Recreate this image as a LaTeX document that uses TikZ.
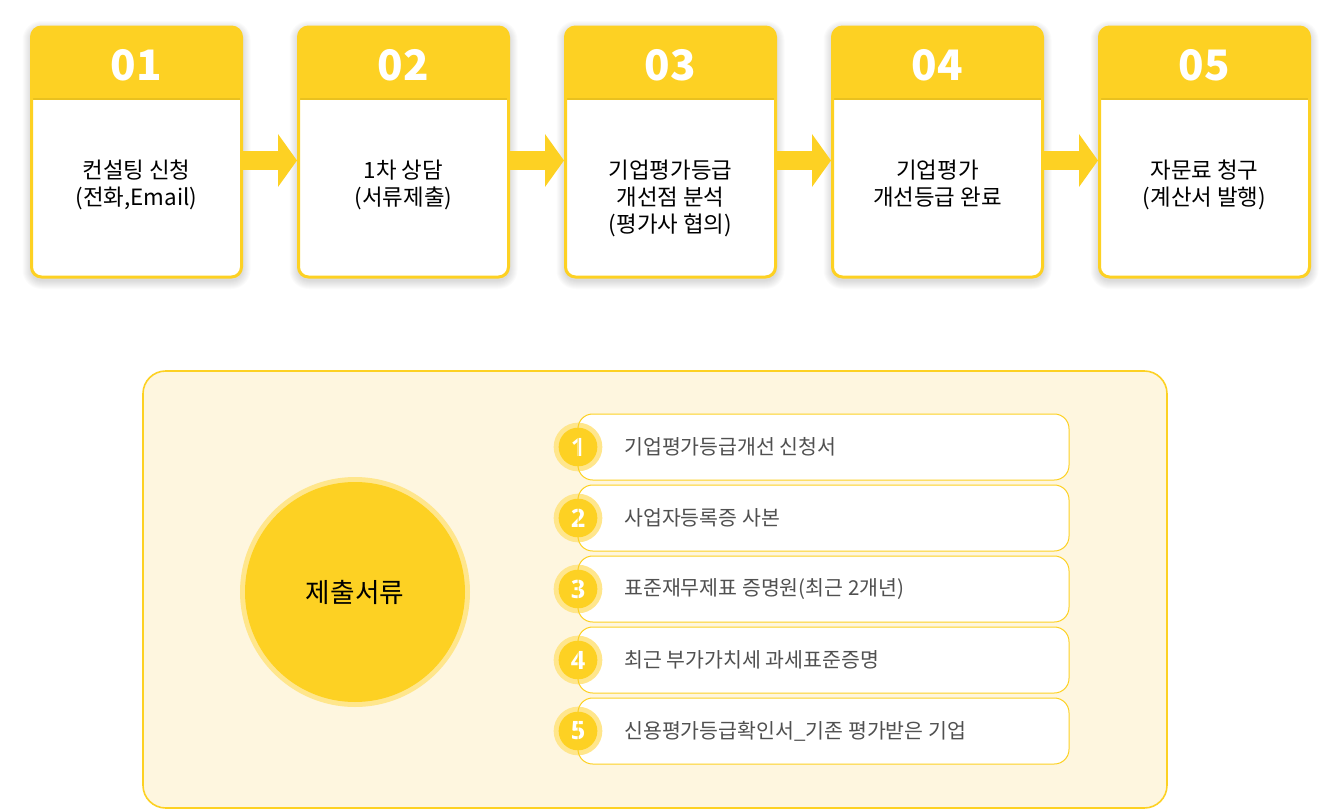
\documentclass[tikz,border=0pt]{standalone}
\usepackage{fontspec}
\setmainfont{Noto Sans CJK KR}
\newfontfamily\digitfont{Open Sans}
\usetikzlibrary{calc,arrows.meta}
\definecolor{yel}{HTML}{FDD123}
\definecolor{ring}{HTML}{FFE68C}
\definecolor{panelfill}{HTML}{FEF6DF}
\definecolor{hdrline}{HTML}{E9C11F}
\definecolor{itemgray}{HTML}{505050}
\begin{document}
\begin{tikzpicture}[x=0.75pt,y=-0.75pt,
  stepbox/.style={rectangle, rounded corners=7.5pt, minimum width=157.5pt, minimum height=187.5pt,
    fill=white, outer sep=0pt, inner sep=0pt},
  softshadow/.style={fill=black, fill opacity=0.015},
  stepborder/.style={draw=yel, line width=2.25pt, rounded corners=7.5pt},
  numtxt/.style={text=white, font=\bfseries\fontsize{31.5}{31.5}\selectfont, inner sep=0pt},
  bodytxt/.style={align=center, text=black, font=\fontsize{16.8}{20.25}\selectfont, inner sep=0pt},
  blockarrow/.style={draw=yel, line width=14.25pt, -{Triangle[width=39pt, length=14.25pt]}},
  panel/.style={rectangle, rounded corners=17pt, minimum width=768pt, minimum height=327.75pt,
    fill=panelfill, draw=yel, line width=1.2pt, outer sep=0pt},
  pill/.style={rectangle, rounded corners=11pt, minimum width=368.25pt, minimum height=49.5pt,
    fill=white, outer sep=0pt, inner sep=0pt},
  pillborder/.style={draw=yel, line width=0.75pt, rounded corners=11pt},
  ringc/.style={circle, fill=ring, inner sep=0pt, outer sep=0pt},
  corec/.style={circle, fill=yel, inner sep=0pt, outer sep=0pt},
  itemnum/.style={text=white, font=\digitfont\bfseries\fontsize{19}{19}\selectfont},
  itemtxt/.style={text=itemgray, font=\fontsize{15.4}{18}\selectfont, inner sep=0pt, anchor=west}
]
\useasboundingbox[fill=white] (0,0) rectangle (1340,810);

% ---- step boxes ----
\foreach \i/\t in {1/{컨설팅 신청\\(전화,Email)},
                   2/{1차 상담\\(서류제출)},
                   3/{기업평가등급\\개선점 분석\\(평가사 협의)},
                   4/{기업평가\\개선등급 완료},
                   5/{자문료 청구\\(계산서 발행)}}{
  \pgfmathsetmacro{\xx}{136.5+267*(\i-1)}
  \foreach \s in {1,...,9}{
    \fill[softshadow, rounded corners=7.5pt+0.75pt*\s] (\xx-105-\s,27-\s+3) rectangle (\xx+105+\s,277+\s+3);
  }
  \node[stepbox] (b\i) at (\xx,152) {};
  \begin{scope}
    \clip ($(b\i.north west)+(-3,-3)$) rectangle ($(b\i.north east)+(3,72)$);
    \fill[yel, rounded corners=7.5pt] (b\i.north west) rectangle (b\i.south east);
  \end{scope}
  \draw[hdrline, line width=1.2pt] ($(b\i.north west)+(1,72)$) -- ($(b\i.north east)+(-1,72)$);
  \draw[stepborder] (b\i.north west) rectangle (b\i.south east);
  \node[numtxt] (n\i) at ($(b\i.north)+(0,38)$) {0\i};
  \node[bodytxt, anchor=north] (t\i) at ($(b\i.north)+(0,133)$) {\t};
}

% ---- arrows ----
\foreach \a/\b in {1/2,2/3,3/4,4/5}{
  \draw[blockarrow] ($(b\a.east)+(0,8.5)$) -- ($(b\b.west)+(-1.5,8.5)$);
}

% ---- panel ----
\node[panel] (panel) at (655,589.5) {};
\node[ringc, minimum size=172.5pt] (doc) at (355,592) {};
\node[corec, minimum size=165pt, font=\fontsize{20}{20}\selectfont, text=black] (docin) at (doc) {제출서류};

% ---- item list ----
\foreach \i/\t in {1/{기업평가등급개선 신청서},
                   2/{사업자등록증 사본},
                   3/{표준재무제표 증명원(최근 2개년)},
                   4/{최근 부가가치세 과세표준증명},
                   5/{신용평가등급확인서\_기존 평가받은 기업}}{
  \pgfmathsetmacro{\yy}{447+71*(\i-1)}
  \node[pill] (p\i) at (823.5,\yy) {};
  \node[ringc, minimum size=36.5pt] (c\i) at (578,\yy) {};
  \node[corec, minimum size=29pt, itemnum] (k\i) at (c\i) {\i};
  \draw[pillborder] (p\i.north west) rectangle (p\i.south east);
  \node[itemtxt] (l\i) at (624,\yy) {\t};
}
\end{tikzpicture}
\end{document}
